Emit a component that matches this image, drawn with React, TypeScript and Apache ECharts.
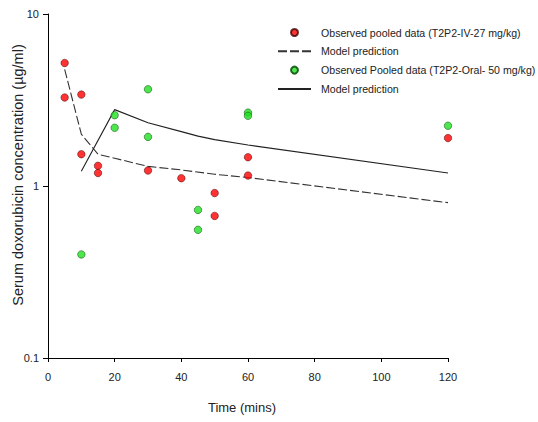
import React, { useEffect, useRef } from "react";
import * as echarts from "echarts";

const ivTime = [5, 5, 10, 10, 15, 15, 30, 40, 50, 50, 60, 60, 120];
const ivConc = [5.19, 3.27, 3.4, 1.53, 1.31, 1.19, 1.23, 1.11, 0.91, 0.67, 1.47, 1.15, 1.9];
const oralTime = [10, 20, 20, 30, 30, 45, 45, 60, 60, 120];
const oralConc = [0.4, 2.58, 2.18, 3.65, 1.93, 0.726, 0.556, 2.67, 2.56, 2.24];
const ivModelTime = [5, 10, 15, 20, 30, 40, 50, 60, 120];
const ivModelConc = [4.77, 2.0, 1.53, 1.45, 1.3, 1.24, 1.17, 1.12, 0.8];
const oralModelTime = [10, 20, 30, 40, 45, 50, 60, 120];
const oralModelConc = [1.22, 2.78, 2.33, 2.07, 1.95, 1.86, 1.73, 1.19];
const yTicks = [0.1, 1, 10];

const names: Record<string, string> = {
  ivObs: "Observed pooled data (T2P2-IV-27 mg/kg)",
  ivModel: "Model prediction",
  oralObs: "Observed Pooled data (T2P2-Oral- 50 mg/kg)",
  oralModel: "Model prediction",
};

const FONT = "'Liberation Sans', Arial, sans-serif";
const TXT = "#222";

export default function App() {
  const ref = useRef<HTMLDivElement>(null);
  useEffect(() => {
    if (!ref.current) return;
    const chart = echarts.init(ref.current, undefined, { renderer: "svg" });
    const zip = (xs: number[], ys: number[]) => xs.map((x, i) => [x, ys[i]]);
    chart.setOption({
      animation: false,
      backgroundColor: "#fff",
      grid: { left: 48, right: 90, top: 14, bottom: 64 },
      xAxis: {
        type: "value",
        min: 0,
        max: 120,
        interval: 20,
        axisLine: { lineStyle: { color: "#000", width: 1 } },
        axisTick: { inside: false, length: 4, lineStyle: { color: "#000" } },
        axisLabel: { color: TXT, fontSize: 11, fontFamily: FONT, margin: 13 },
        splitLine: { show: false },
      },
      yAxis: {
        type: "log",
        logBase: 10,
        min: 0.1,
        max: 10,
        axisLine: { show: true, lineStyle: { color: "#000", width: 1 } },
        axisTick: { show: true, inside: false, length: 5, lineStyle: { color: "#000" } },
        axisLabel: {
          color: TXT,
          fontSize: 11,
          fontFamily: FONT,
          margin: 9,
          formatter: (v: number) => {
            const t = yTicks.find((k) => Math.abs(k - v) / k < 1e-6);
            return t === undefined ? "" : String(t);
          },
        },
        splitLine: { show: false },
        minorTick: { show: false },
      },
      legend: {
        orient: "vertical",
        left: 272,
        top: 22,
        itemWidth: 33,
        itemHeight: 7,
        itemGap: 7.8,
        data: [
          { name: "ivObs" },
          { name: "ivModel", itemStyle: { opacity: 0 } },
          { name: "oralObs" },
          { name: "oralModel", itemStyle: { opacity: 0 } },
        ],
        formatter: (n: string) => names[n],
        textStyle: { color: TXT, fontSize: 10.6, fontFamily: FONT, padding: [0, 0, 0, 5] },
      },
      graphic: [
        {
          type: "text",
          x: 18,
          y: 175,
          rotation: Math.PI / 2,
          style: {
            text: "Serum doxorubicin concentration (µg/ml)",
            fill: TXT,
            fontSize: 14.5,
            fontFamily: FONT,
            textAlign: "center",
            textVerticalAlign: "middle",
          },
        },
        {
          type: "text",
          x: 242,
          y: 407,
          style: {
            text: "Time (mins)",
            fill: TXT,
            fontSize: 13,
            fontFamily: FONT,
            textAlign: "center",
            textVerticalAlign: "middle",
          },
        },
      ],
      series: [
        {
          name: "ivModel",
          type: "line",
          data: zip(ivModelTime, ivModelConc),
          symbol: "none",
          lineStyle: { color: "#333", width: 1.1, type: [9, 3] },
          itemStyle: { color: "#333" },
          z: 2,
        },
        {
          name: "oralModel",
          type: "line",
          data: zip(oralModelTime, oralModelConc),
          symbol: "none",
          lineStyle: { color: "#222", width: 1.1 },
          itemStyle: { color: "#222" },
          z: 2,
        },
        {
          name: "ivObs",
          type: "scatter",
          data: zip(ivTime, ivConc),
          symbol: "circle",
          symbolSize: 7.5,
          itemStyle: { color: "#ff0000", borderColor: "#400000", borderWidth: 0.6 },
          z: 3,
        },
        {
          name: "oralObs",
          type: "scatter",
          data: zip(oralTime, oralConc),
          symbol: "circle",
          symbolSize: 7.5,
          itemStyle: { color: "#22e022", borderColor: "#004000", borderWidth: 0.6 },
          z: 3,
        },
      ],
    });
    return () => chart.dispose();
  }, []);
  return (
    <div
      ref={ref}
      style={{ position: "fixed", left: 0, top: 0, width: 538, height: 422, background: "#fff" }}
    />
  );
}
